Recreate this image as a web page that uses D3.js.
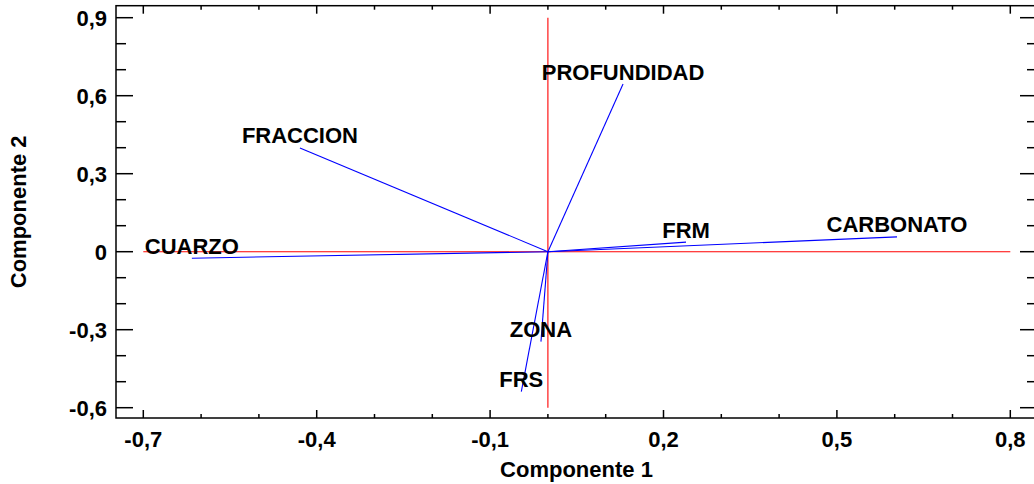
<!DOCTYPE html>
<html>
<head>
<meta charset="utf-8">
<script src="https://cdn.jsdelivr.net/npm/d3@7"></script>
<style>
  html, body { margin: 0; padding: 0; background: #fff; }
  svg { display: block; }
  text { font-family: "Liberation Sans", Arial, sans-serif; font-weight: bold; }
</style>
</head>
<body>
<svg id="chart" width="1034" height="484"></svg>
<script>
// Loadings of each variable on the first two principal components
const variables = ["PROFUNDIDAD", "FRACCION", "CUARZO", "FRM", "CARBONATO", "ZONA", "FRS"];
const comp1 = [0.130, -0.429, -0.616, 0.239, 0.604, -0.012, -0.046];
const comp2 = [0.645, 0.399, -0.025, 0.037, 0.057, -0.346, -0.538];

const xTicks = [-0.7, -0.4, -0.1, 0.2, 0.5, 0.8];
const yTicks = [-0.6, -0.3, 0, 0.3, 0.6, 0.9];
const xMinor = d3.range(-7, 9).map(i => i / 10);
const yMinor = d3.range(-6, 10).map(i => i / 10);

const fmt = v => v === 0 ? "0" : d3.format(".1f")(v).replace(".", ",").replace("−", "-");

const svg = d3.select("#chart");
const frame = { left: 116, right: 1037, top: 5.7, bottom: 418 };

const x = d3.scaleLinear().domain([-0.7, 0.8]).range([143.3, 1010.3]);
const y = d3.scaleLinear().domain([-0.6, 0.9]).range([407.7, 17.7]);

// Reference axes through the origin
svg.append("line")
  .attr("x1", x(-0.7)).attr("x2", x(0.8)).attr("y1", y(0)).attr("y2", y(0))
  .attr("stroke", "#ff0000").attr("stroke-width", 1.1);
svg.append("line")
  .attr("x1", x(0)).attr("x2", x(0)).attr("y1", y(-0.6)).attr("y2", y(0.9))
  .attr("stroke", "#ff0000").attr("stroke-width", 1.1);

// Variable vectors
const rows = variables.map((name, i) => ({ name, c1: comp1[i], c2: comp2[i] }));
svg.append("g").selectAll("line").data(rows).join("line")
  .attr("x1", x(0)).attr("y1", y(0))
  .attr("x2", d => x(d.c1)).attr("y2", d => y(d.c2))
  .attr("stroke", "#0000ff").attr("stroke-width", 1.1);

svg.append("g").selectAll("text").data(rows).join("text")
  .attr("x", d => x(d.c1)).attr("y", d => y(d.c2) - 4.5)
  .attr("text-anchor", "middle")
  .attr("font-size", 22)
  .attr("fill", "#000")
  .text(d => d.name);

// Frame
svg.append("rect")
  .attr("x", frame.left).attr("y", frame.top)
  .attr("width", frame.right - frame.left).attr("height", frame.bottom - frame.top)
  .attr("fill", "none").attr("stroke", "#000").attr("stroke-width", 1.5);

const tick = (g, vals, len, orient) => {
  g.selectAll("line").data(vals).join("line")
    .attr("stroke", "#000").attr("stroke-width", 1.5)
    .each(function (v) {
      const l = d3.select(this);
      if (orient === "bottom") l.attr("x1", x(v)).attr("x2", x(v)).attr("y1", frame.bottom).attr("y2", frame.bottom - len);
      if (orient === "top") l.attr("x1", x(v)).attr("x2", x(v)).attr("y1", frame.top).attr("y2", frame.top + len);
      if (orient === "left") l.attr("y1", y(v)).attr("y2", y(v)).attr("x1", frame.left).attr("x2", frame.left + len);
      if (orient === "right") l.attr("y1", y(v)).attr("y2", y(v)).attr("x1", frame.right).attr("x2", frame.right - len);
    });
};
const isMajor = (v, arr) => arr.some(t => Math.abs(t - v) < 1e-9);
tick(svg.append("g"), xTicks, 8, "bottom");
tick(svg.append("g"), xMinor.filter(v => !isMajor(v, xTicks)), 4, "bottom");
tick(svg.append("g"), xTicks, 8, "top");
tick(svg.append("g"), xMinor.filter(v => !isMajor(v, xTicks)), 4, "top");
tick(svg.append("g"), yTicks, 17, "left");
tick(svg.append("g"), yMinor.filter(v => !isMajor(v, yTicks)), 10, "left");
tick(svg.append("g"), yTicks, 17, "right");
tick(svg.append("g"), yMinor.filter(v => !isMajor(v, yTicks)), 10, "right");

// Tick labels
svg.append("g").selectAll("text").data(xTicks).join("text")
  .attr("x", d => x(d)).attr("y", 447)
  .attr("text-anchor", "middle").attr("font-size", 22)
  .text(fmt);
svg.append("g").selectAll("text").data(yTicks).join("text")
  .attr("x", 107).attr("y", d => y(d) + 8)
  .attr("text-anchor", "end").attr("font-size", 22)
  .text(fmt);

// Axis titles
svg.append("text")
  .attr("x", (frame.left + frame.right) / 2).attr("y", 477)
  .attr("text-anchor", "middle").attr("font-size", 22)
  .text("Componente 1");
svg.append("text")
  .attr("transform", `translate(26,${(frame.top + frame.bottom) / 2}) rotate(-90)`)
  .attr("text-anchor", "middle").attr("font-size", 22)
  .text("Componente 2");
</script>
</body>
</html>
